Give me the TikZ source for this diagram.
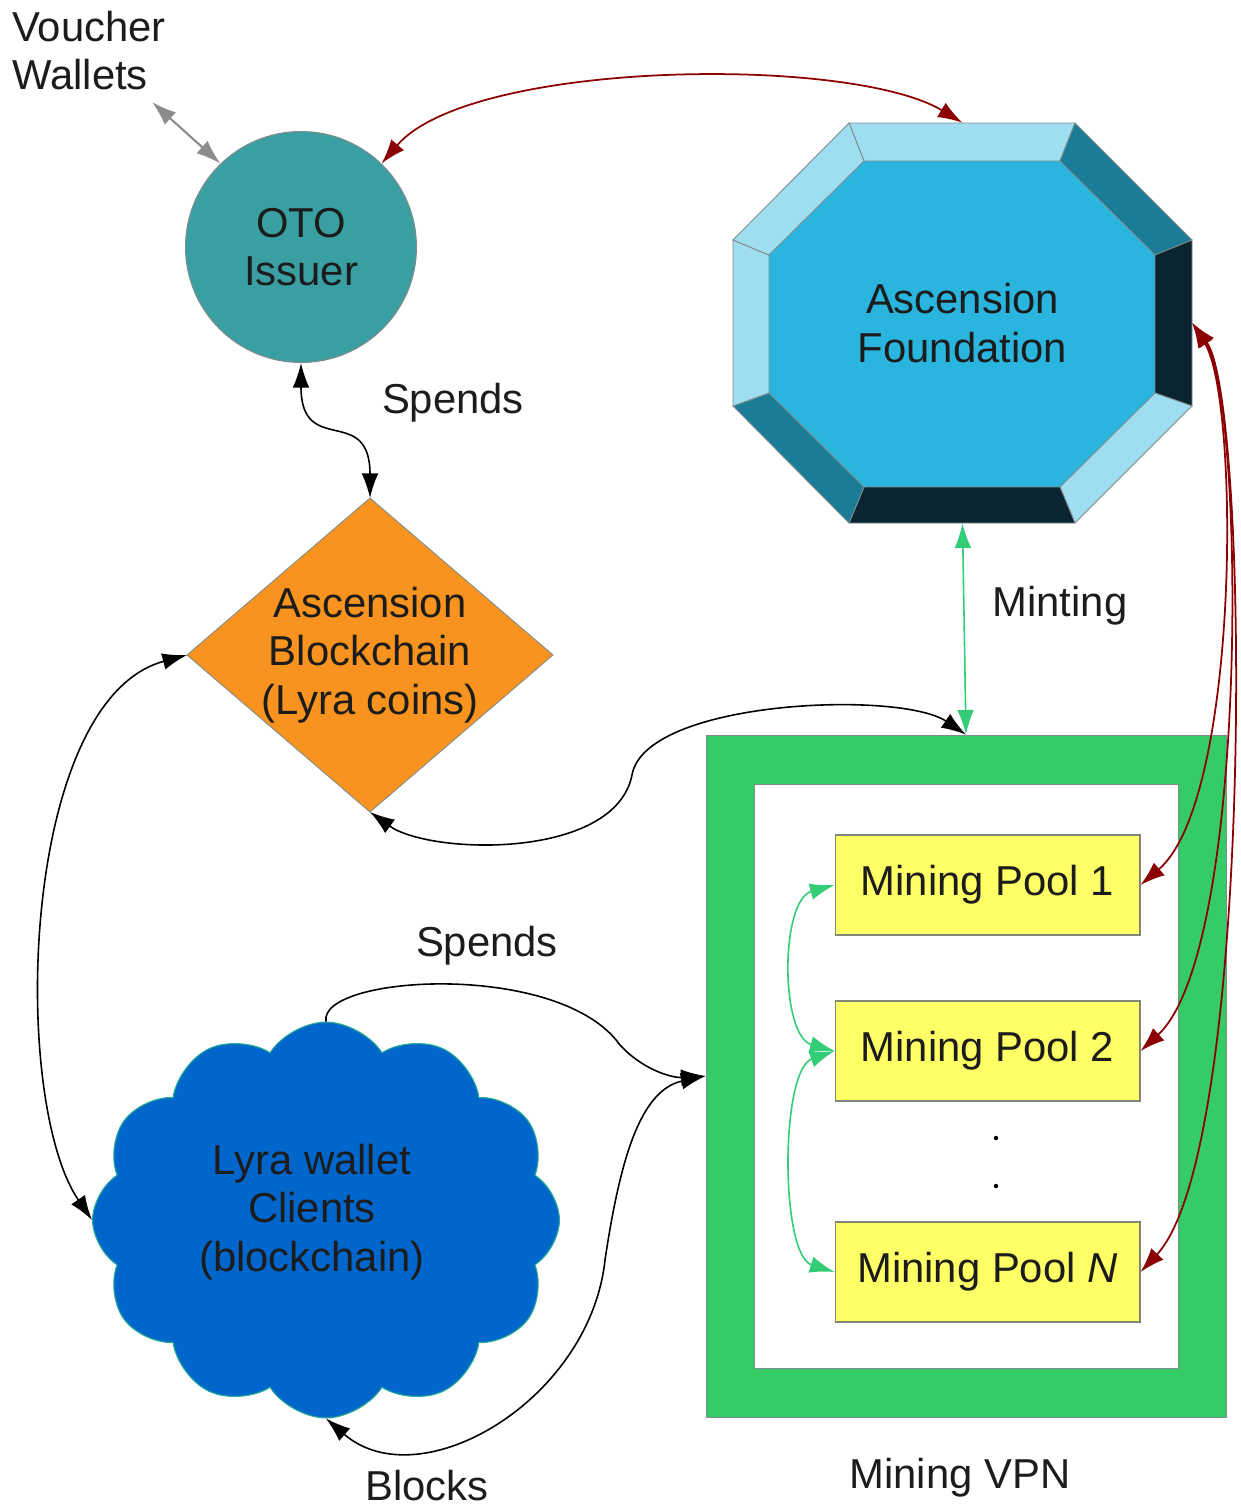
\documentclass[tikz,border=0pt]{standalone}
\usepackage{fontspec}
\setmainfont{Liberation Sans}
\usetikzlibrary{arrows.meta,shapes.geometric,shapes.symbols}

\definecolor{txt}{HTML}{1C1C1C}
\definecolor{ototeal}{HTML}{3A9FA2}
\definecolor{chainorange}{HTML}{F7931E}
\definecolor{afcore}{HTML}{29B5DE}
\definecolor{aflight}{HTML}{9FDDF0}
\definecolor{afmid}{HTML}{1B7C98}
\definecolor{afdark}{HTML}{0B2530}
\definecolor{vpngreen}{HTML}{35CB66}
\definecolor{poolyellow}{HTML}{FFFF66}
\definecolor{cloudblue}{HTML}{0066CC}
\definecolor{linkred}{HTML}{8B0000}
\definecolor{linkgreen}{HTML}{33CC77}
\definecolor{linkgray}{HTML}{8C8C8C}
\definecolor{edgegray}{HTML}{7F8C8D}

\tikzset{
  lbl/.style={font=\fontsize{23.8}{27.5}\selectfont, text=txt, align=center, inner sep=0pt},
  tip/.style={>={Latex[length=14pt,width=9.5pt]}},
  blacklink/.style={tip, draw=black, line width=0.9pt},
  redlink/.style={tip, draw=linkred, line width=1pt},
  greenlink/.style={tip, draw=linkgreen, line width=0.9pt},
  graylink/.style={tip, draw=linkgray, line width=1.2pt},
  bevel/.style={draw=edgegray, line width=0.5pt},
  pool/.style={lbl, rectangle, draw=edgegray!80!olive, line width=0.6pt, fill=poolyellow,
               minimum width=6.1cm, minimum height=2cm}
}

\begin{document}
\begin{tikzpicture}[x=0.02cm, y=-0.02cm]
\useasboundingbox (0,0) rectangle (1241,1509);

% --- Voucher wallets and OTO issuer ---
\node[lbl, align=left, anchor=north west] (vw) at (12,11) {Voucher\\Wallets};
\coordinate (vwend) at (152,102);
\node[lbl, circle, fill=ototeal, draw=edgegray, line width=0.6pt, minimum size=4.62cm] (oto) at (301,247) {OTO\\Issuer};

% --- Ascension Foundation: bevelled octagon ---
\fill[afcore] (864,161) -- (1060,161) -- (1155,255) -- (1155,393) -- (1060,487) -- (864,487) -- (769,393) -- (769,255) -- cycle;
\filldraw[bevel, fill=aflight] (849,123) -- (1075,123) -- (1060,161) -- (864,161) -- cycle;
\filldraw[bevel, fill=afmid]   (1075,123) -- (1192,240) -- (1155,255) -- (1060,161) -- cycle;
\filldraw[bevel, fill=afdark]  (1192,240) -- (1192,406) -- (1155,393) -- (1155,255) -- cycle;
\filldraw[bevel, fill=aflight] (1192,406) -- (1075,523) -- (1060,487) -- (1155,393) -- cycle;
\filldraw[bevel, fill=afdark]  (1075,523) -- (849,523) -- (864,487) -- (1060,487) -- cycle;
\filldraw[bevel, fill=afmid]   (849,523) -- (733,406) -- (769,393) -- (864,487) -- cycle;
\filldraw[bevel, fill=aflight] (733,406) -- (733,240) -- (769,255) -- (769,393) -- cycle;
\filldraw[bevel, fill=aflight] (733,240) -- (849,123) -- (864,161) -- (769,255) -- cycle;
\node[lbl, rectangle, minimum width=9.18cm, minimum height=8cm] (af) at (962.5,323) {Ascension\\Foundation};

% --- Ascension blockchain ---
\node[lbl, diamond, aspect=1.166, fill=chainorange, draw=edgegray, line width=0.5pt,
      minimum width=7.32cm, minimum height=6.28cm, inner sep=-5pt, outer sep=0pt] (abc) at (370,655)
      {Ascension\\Blockchain\\(Lyra coins)};

% --- Mining VPN with pools ---
\node[rectangle, fill=vpngreen, draw=edgegray, line width=0.5pt,
      minimum width=10.4cm, minimum height=13.64cm] (vpn) at (966,1076) {};
\filldraw[fill=white, draw=edgegray, line width=0.5pt]
  ([shift={(49,50)}]vpn.north west) rectangle ([shift={(-48,-49)}]vpn.south east);
\node[pool] (p1) at (987.5,885) {Mining Pool 1};
\node[pool] (p2) at (987.5,1051) {Mining Pool 2};
\node[pool] (pn) at (987.5,1272) {Mining Pool \textit{N}};
\fill[black] (996,1138) circle (0.045cm);
\fill[black] (996,1186) circle (0.045cm);

% --- Lyra wallet clients ---
\node[cloud, cloud puffs=12, cloud puff arc=115, aspect=1.18,
      fill=cloudblue, draw=linkgreen!70!cloudblue, line width=0.6pt,
      minimum width=9.34cm, minimum height=7.92cm] (lyra) at (326,1220) {};
\node[lbl] (lyratext) at (312,1212) {Lyra wallet\\Clients\\(blockchain)};

% --- Connectors ---
\draw[graylink, <->] (vwend) -- (oto.134);
\draw[redlink, <->] (oto.46) .. controls (470,60) and (850,55) .. (af.north);
\draw[blacklink, <->] (oto.south) .. controls +(0,95) and +(0,-95) .. (abc.north);
\draw[blacklink, <->] (abc.west) .. controls (20,700) and (10,1100) .. (lyra.west);
\draw[blacklink, <->] (abc.south) .. controls (430,855) and (615,860) .. (632,775)
                                   .. controls (645,700) and (900,690) .. (vpn.north);
\draw[greenlink, <->] (af.south) -- (vpn.north);
\draw[blacklink, ->] (lyra.north) .. controls (318,975) and (560,960) .. (620,1045)
                                   .. controls (645,1072) and (675,1078) .. (vpn.west);
\draw[blacklink, <->] (vpn.west) .. controls (640,1090) and (620,1160) .. (605,1260)
                                  .. controls (590,1400) and (420,1500) .. (lyra.south);
\draw[greenlink, <->] (p1.west) .. controls (780,900) and (780,1036) .. (p2.west);
\draw[greenlink, <->] (p2.west) .. controls (780,1070) and (780,1255) .. (pn.west);
\draw[redlink, <->] (af.east) .. controls (1240,400) and (1240,800) .. (p1.east);
\draw[redlink, <->] (af.east) .. controls (1245,400) and (1250,950) .. (p2.east);
\draw[redlink, <->] (af.east) .. controls (1250,400) and (1255,1150) .. (pn.east);

% --- Labels ---
\node[lbl] (l1) at (453,403) {Spends};
\node[lbl] (l2) at (1060,606) {Minting};
\node[lbl] (l3) at (487,946) {Spends};
\node[lbl] (l4) at (427,1486) {Blocks};
\node[lbl] (l5) at (960,1478) {Mining VPN};
\end{tikzpicture}
\end{document}
